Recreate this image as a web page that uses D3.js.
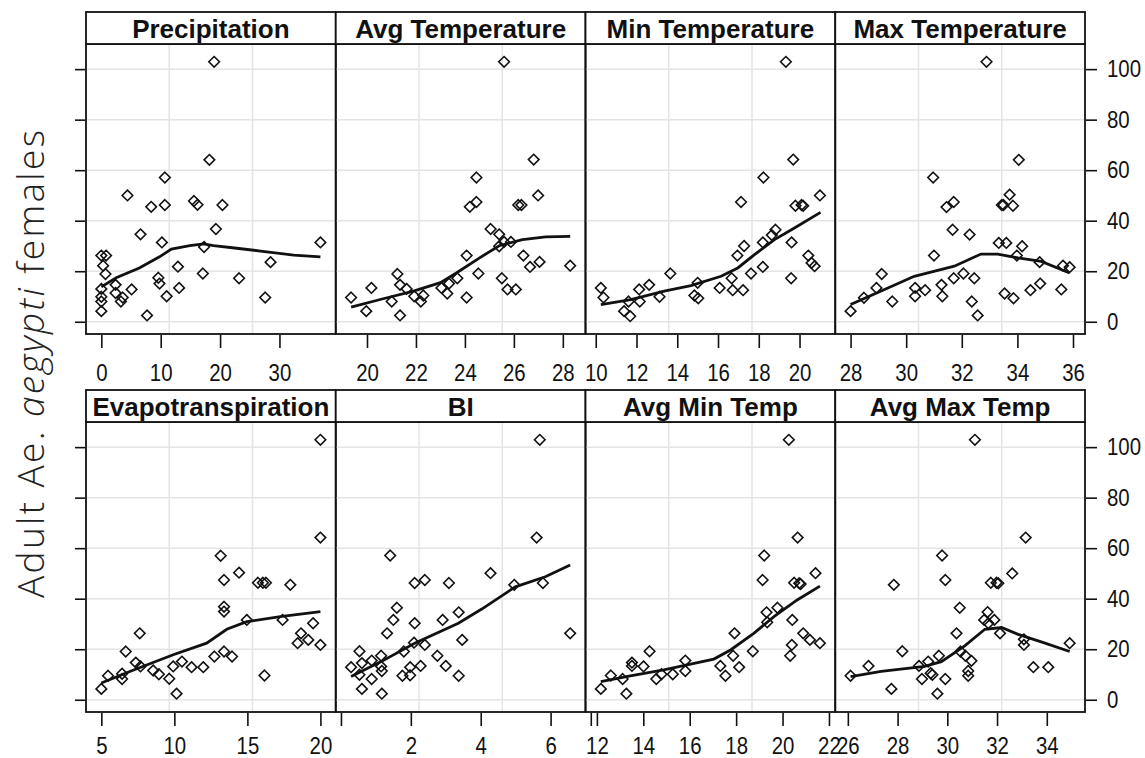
<!DOCTYPE html>
<html lang="en">
<head>
<meta charset="UTF-8">
<title>Adult Ae. aegypti females</title>
<script src="https://d3js.org/d3.v7.min.js"></script>
<style>
  body { margin: 0; background: #fff; }
  .tick text { font-family: "Liberation Sans", Arial, sans-serif; font-size: 24px; fill: #111; }
  .tick line { stroke: #111; stroke-width: 1.6; }
  .strip text { font-family: "Liberation Sans", Arial, sans-serif; font-weight: bold; font-size: 26px; fill: #111; }
</style>
</head>
<body>
<script>
// y values are the same response (adult females) in each panel
const yTicks = [0, 20, 40, 60, 80, 100];

const precipX = [19.0,18.2,10.7,4.4,8.4,10.7,15.6,16.2,20.4,19.3,6.6,10.2,17.3,36.9,0,0.8,0.3,0.7,12.9,28.5,17.1,23.2,9.6,9.8,2.4,5.1,13.1,0,2.4,3.6,3.3,11.0,0,0,27.6,0,7.7];
const precipY = [102.9,64.1,57.1,50,45.5,46.2,47.8,46.3,46.2,36.7,34.6,31.4,29.6,31.4,26.2,26.2,22.2,18.9,21.8,23.6,19.1,17.2,17.4,15.1,14.6,12.8,13.4,13.0,11.4,9.6,8.0,10.1,9.9,8.0,9.6,4.2,2.5];
const precipSmX = [0,2.5,6.4,9.8,11.8,14.9,17.2,18.9,22.8,26.8,32.4,36.9];
const precipSmY = [13.8,17.4,21.3,25.7,28.8,30.1,30.8,30.1,29.1,28.0,26.4,25.7];
const precipTicks = [0, 10, 20, 30];

const avgTX = [25.6,26.81,24.47,26.99,24.2,24.47,26.18,26.31,25.05,25.4,25.4,25.6,25.88,24.07,26.39,26.66,27.05,28.3,24.55,25.51,21.24,21.35,21.62,20.18,23.04,23.35,23.69,23.28,25.74,26.08,21.93,22.3,22.2,21.01,24.07,19.35,19.97,21.35];
const avgTY = [102.9,64.2,57.1,50,45.5,47.4,46.2,46.2,36.7,34.6,29.9,31.6,31.6,26.2,26.2,21.7,23.7,22.2,19.1,17.2,18.9,14.6,13.0,13.4,13.4,15.1,17.2,11.2,12.8,12.8,10.1,10.4,8.0,8.0,9.6,9.6,4.2,2.5];
const avgTSmX = [19.35,20.54,21.9,23.0,23.65,24.6,25.4,26.35,27.3,28.3];
const avgTSmY = [5.8,8.8,12.1,15.5,19.3,25.3,30.1,32.5,33.6,33.8];
const avgTTicks = [20, 22, 24, 26, 28];

const minTX = [19.33,19.69,18.23,21.0,17.13,19.8,20.1,20.18,18.82,18.64,18.2,19.61,17.28,16.95,20.43,20.59,20.74,18.2,17.62,13.66,19.59,16.67,15.0,12.62,12.13,10.25,16.08,16.72,17.23,14.84,15.03,13.13,10.38,12.16,11.61,11.39,11.69];
const minTY = [102.9,64.2,57.1,50,47.4,45.9,46.2,45.9,36.4,34.3,31.4,31.4,30.0,26.2,26.2,23.3,22.0,21.7,19.1,19.1,17.2,17.2,15.4,14.6,12.8,13.4,13.4,12.5,12.5,10.4,9.3,9.9,9.6,8.0,8.0,4.2,2.2];
const minTSmX = [10.25,11.72,13.36,14.67,16.15,16.97,17.79,18.77,19.75,21.03];
const minTSmY = [6.8,8.8,12.1,14.3,18.0,21.3,26.6,32.5,37.1,43.3];
const minTTicks = [10, 12, 14, 16, 18, 20];

const maxTX = [32.89,34.05,30.97,33.72,31.71,31.45,33.44,33.5,33.84,31.67,32.28,33.33,33.6,34.17,31.0,33.98,34.8,35.64,35.88,29.12,32.06,31.71,32.45,28.93,30.32,30.68,31.27,34.47,34.82,35.58,33.54,30.32,31.3,33.86,28.48,29.5,32.36,28.0,32.57];
const maxTY = [102.9,64.1,57.1,50.3,47.4,45.4,46.2,46.2,45.9,36.4,34.5,31.2,31.2,29.9,26.2,26.2,23.6,22.2,21.6,18.9,19.1,17.2,17.2,13.4,13.4,12.5,14.6,12.5,15.1,12.8,11.2,10.1,10.1,9.3,9.5,8.0,8.0,4.2,2.5];
const maxTSmX = [28.0,29.08,30.29,31.73,32.69,33.29,34.02,34.86,35.88];
const maxTSmY = [6.8,12.1,18.0,22.0,26.8,26.8,25.3,23.9,19.3];
const maxTTicks = [28, 30, 32, 34, 36];

const evapX = [20.0,20.0,13.17,14.43,13.4,15.72,16.06,16.27,17.94,13.4,13.4,14.96,17.41,19.5,7.63,18.67,18.44,19.17,20.0,6.67,13.4,12.74,13.95,7.36,7.68,10.52,9.92,11.18,11.98,8.55,8.94,5.46,6.42,6.42,9.65,16.17,5.0,10.15];
const evapY = [102.9,64.2,57,50.3,47.4,46.3,46.3,46.3,45.5,36.8,34.9,31.6,31.6,30.3,26.3,26.3,22.4,23.7,21.7,19.1,19.1,17.1,17.1,14.7,13.2,15.1,13.2,12.9,12.9,11.6,10.1,9.5,10.3,8.2,8.3,9.6,4.3,2.4];
const evapSmX = [5,6.95,9.92,12.21,13.59,14.96,17.25,20.0];
const evapSmY = [6.6,11.2,17.8,22.4,27.9,30.9,32.9,34.9];
const evapTicks = [5, 10, 15, 20];

const biX = [5.69,5.6,1.41,4.28,2.11,2.4,3.09,4.96,5.78,1.6,3.37,1.5,2.91,2.11,1.32,6.56,3.47,2.09,2.4,0.53,1.8,2.76,1.15,0.88,0.6,1.15,0.29,1.98,2.28,3.0,1.17,0.53,1.98,1.76,3.37,0.88,0.6,1.17];
const biY = [102.9,64.2,57.1,50.1,46.2,47.4,46.2,45.5,46.2,36.4,34.6,31.6,31.6,30.3,26.3,26.3,23.7,22.6,21.7,19.2,19.1,17.4,17.4,15.5,14.5,13.2,12.9,12.9,13.4,13.4,11.4,9.9,9.7,9.5,9.5,8.2,4.3,2.4];
const biSmX = [0.29,1.15,2.11,3.36,4.03,4.99,5.85,6.56];
const biSmY = [9.2,15.1,22.4,30.3,35.9,44.7,48.7,53.3];
const biTicks = [0, 2, 4, 6, 7.15];
const biTickLabels = ["", "2", "4", "6", ""];

const avgMinX = [20.27,20.65,19.21,19.14,21.42,20.5,20.72,20.78,19.78,19.31,19.34,20.42,17.93,20.89,21.18,21.61,20.4,18.72,14.27,17.87,20.33,13.51,13.51,15.81,14.01,17.32,18.13,12.6,14.78,15.27,15.81,13.11,14.56,17.54,12.17,13.27];
const avgMinY = [102.9,64.2,57.1,47.4,50.1,46.3,46.1,45.8,36.4,34.6,30.7,31.6,26.3,26.3,23.7,22.4,21.7,19.2,19.2,17.4,17.4,14.7,13.4,15.5,13.2,13.4,12.9,9.6,10.1,10.1,11.4,8.2,8.2,9.5,4.3,2.4];
const avgMinSmX = [12.17,13.44,14.88,17.04,17.76,18.76,19.63,20.63,21.61];
const avgMinSmY = [7.2,9.5,11.8,16.1,19.7,26.3,32.9,39.5,45.0];
const avgMinTicks = [12, 14, 16, 18, 20, 22];

const avgMaxX = [31.11,33.15,29.79,29.92,27.85,32.61,31.75,31.98,32.05,30.5,31.62,31.48,31.89,31.65,30.37,32.12,33.08,33.08,34.92,28.19,29.66,30.73,30.53,30.97,26.83,28.86,29.23,33.46,34.06,29.33,29.4,30.84,30.84,26.11,28.98,29.92,27.75,29.6];
const avgMaxY = [102.9,64.2,57.1,47.4,45.5,50,46.3,46.3,46.1,36.4,34.7,31.6,31.6,30.3,26.3,26.3,23.9,21.7,22.4,19.2,17.4,17.4,19.1,15.4,13.4,13.4,15.1,12.9,12.9,10.5,9.9,11.4,9.5,9.5,8.2,8.2,4.3,2.4];
const avgMaxSmX = [26.11,27.34,29.09,29.76,30.7,31.51,32.18,32.85,33.93,34.92];
const avgMaxSmY = [9.2,11.2,13.2,15.1,21.3,27.9,28.6,25.9,22.4,19.1];
const avgMaxTicks = [26, 28, 30, 32, 34];

const panels = [
  { name: "Precipitation", x: precipX, y: precipY, sx: precipSmX, sy: precipSmY, ticks: precipTicks },
  { name: "Avg Temperature", x: avgTX, y: avgTY, sx: avgTSmX, sy: avgTSmY, ticks: avgTTicks },
  { name: "Min Temperature", x: minTX, y: minTY, sx: minTSmX, sy: minTSmY, ticks: minTTicks },
  { name: "Max Temperature", x: maxTX, y: maxTY, sx: maxTSmX, sy: maxTSmY, ticks: maxTTicks },
  { name: "Evapotranspiration", x: evapX, y: evapY, sx: evapSmX, sy: evapSmY, ticks: evapTicks },
  { name: "BI", x: biX, y: biY, sx: biSmX, sy: biSmY, ticks: biTicks, labels: biTickLabels },
  { name: "Avg Min Temp", x: avgMinX, y: avgMinY, sx: avgMinSmX, sy: avgMinSmY, ticks: avgMinTicks },
  { name: "Avg Max Temp", x: avgMaxX, y: avgMaxY, sx: avgMaxSmX, sy: avgMaxSmY, ticks: avgMaxTicks }
];

const W = 1145, H = 758;
const left = 86, panelW = 249.75, stripH = 32, panelH = 290;
const rowTop = [12, 390];
const pad = 0.07;      // lattice style axis padding
const squeeze = 0.85;  // condensed look of the tick labels

function padded(ext) {
  const d = ext[1] - ext[0];
  return [ext[0] - d * pad, ext[1] + d * pad];
}

const allY = d3.merge(panels.map(p => p.y));
const yDomain = padded(d3.extent(allY));

const svg = d3.select("body").append("svg")
  .attr("width", W)
  .attr("height", H);

panels.forEach((p, i) => {
  const col = i % 4, row = Math.floor(i / 4);
  const x0 = left + col * panelW, x1 = x0 + panelW;
  const sTop = rowTop[row];
  const pTop = sTop + stripH, pBot = pTop + panelH;

  const xScale = d3.scaleLinear().domain(padded(d3.extent(p.x))).range([x0, x1]);
  const yScale = d3.scaleLinear().domain(yDomain).range([pBot, pTop]);

  const g = svg.append("g");

  // grid
  g.selectAll(".hg").data(yTicks).enter().append("line")
    .attr("x1", x0).attr("x2", x1)
    .attr("y1", d => yScale(d)).attr("y2", d => yScale(d))
    .attr("stroke", "#e4e4e4").attr("stroke-width", 1.5);
  g.selectAll(".vg").data([1, 2]).enter().append("line")
    .attr("x1", d => x0 + panelW * d / 3).attr("x2", d => x0 + panelW * d / 3)
    .attr("y1", pTop).attr("y2", pBot)
    .attr("stroke", "#e4e4e4").attr("stroke-width", 1.5);

  // points
  g.selectAll(".pt").data(p.x.map((v, k) => [v, p.y[k]])).enter().append("path")
    .attr("d", "M0,-5.3L5.3,0L0,5.3L-5.3,0Z")
    .attr("transform", d => "translate(" + xScale(d[0]) + "," + yScale(d[1]) + ")")
    .attr("fill", "none")
    .attr("stroke", "#111")
    .attr("stroke-width", 1.6);

  // smooth
  const line = d3.line().x(d => xScale(d[0])).y(d => yScale(d[1]));
  g.append("path")
    .attr("d", line(p.sx.map((v, k) => [v, p.sy[k]])))
    .attr("fill", "none")
    .attr("stroke", "#111")
    .attr("stroke-width", 2.8);

  // panel border and strip
  g.append("rect").attr("x", x0).attr("y", pTop).attr("width", panelW).attr("height", panelH)
    .attr("fill", "none").attr("stroke", "#111").attr("stroke-width", 1.8);
  const st = g.append("g").attr("class", "strip");
  st.append("rect").attr("x", x0).attr("y", sTop).attr("width", panelW).attr("height", stripH)
    .attr("fill", "#fff").attr("stroke", "#111").attr("stroke-width", 1.8);
  st.append("text").attr("x", (x0 + x1) / 2).attr("y", sTop + 26)
    .attr("text-anchor", "middle").text(p.name);

  // x axis
  const xAxis = d3.axisBottom(xScale).tickValues(p.ticks).tickSize(13)
    .tickPadding(row === 0 ? 16 : 11)
    .tickFormat((d, k) => p.labels ? p.labels[k] : d3.format("d")(d));
  g.append("g").attr("transform", "translate(0," + (pBot + 1) + ")").call(xAxis)
    .call(a => a.select(".domain").remove())
    .call(a => a.selectAll("text").attr("transform", "scale(" + squeeze + ",1)"));

  // y ticks: left side without labels, right side with labels
  if (col === 0) {
    g.append("g").attr("transform", "translate(" + (x0 - 1) + ",0)")
      .call(d3.axisLeft(yScale).tickValues(yTicks).tickSize(10).tickFormat(""))
      .call(a => a.select(".domain").remove());
  }
  if (col === 3) {
    g.append("g").attr("transform", "translate(" + (x1 + 1) + ",0)")
      .call(d3.axisRight(yScale).tickValues(yTicks).tickSize(11).tickPadding(10))
      .call(a => a.select(".domain").remove())
      .call(a => a.selectAll("text")
        .attr("x", 21 / squeeze)
        .attr("transform", "scale(" + squeeze + ",1)"));
  }
});

// y axis title
const title = svg.append("text")
  .attr("transform", "translate(44,364) rotate(-90)")
  .attr("text-anchor", "middle")
  .attr("textLength", 468)
  .attr("lengthAdjust", "spacing")
  .style("font-family", "'Open Sans', 'Noto Sans', sans-serif")
  .style("font-weight", 300)
  .style("font-size", "37px")
  .attr("fill", "#222");
title.append("tspan").text("Adult ");
title.append("tspan").text("Ae. ");
title.append("tspan").style("font-style", "italic").text("aegypti");
title.append("tspan").text(" females");
</script>
</body>
</html>
